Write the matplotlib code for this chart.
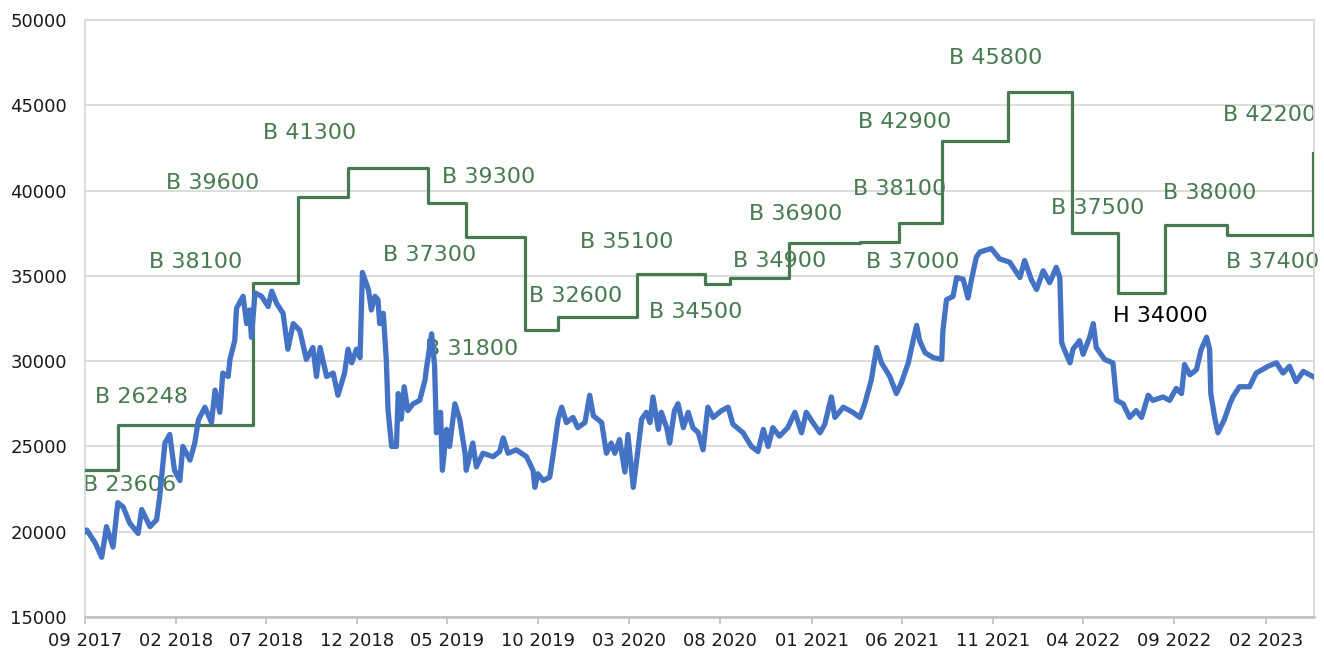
import matplotlib
matplotlib.use("Agg")
import matplotlib.pyplot as plt
import matplotlib.dates as mdates
import pandas as pd

plt.rcParams['font.family'] = ['DejaVu Sans']

# price series
price_dates = [
    '2017-09-01', '2017-09-04', '2017-09-18', '2017-09-29', '2017-10-07', '2017-10-18', '2017-10-26',
    '2017-11-04', '2017-11-15', '2017-11-29', '2017-12-05', '2017-12-19', '2017-12-30', '2018-01-04',
    '2018-01-13', '2018-01-21', '2018-01-29', '2018-02-07', '2018-02-12', '2018-02-24', '2018-03-04',
    '2018-03-10', '2018-03-21', '2018-04-01', '2018-04-07', '2018-04-15', '2018-04-20', '2018-04-29',
    '2018-05-02', '2018-05-10', '2018-05-13', '2018-05-24', '2018-05-30', '2018-06-04', '2018-06-07',
    '2018-06-13', '2018-06-24', '2018-07-05', '2018-07-11', '2018-07-19', '2018-07-30', '2018-08-07',
    '2018-08-16', '2018-08-27', '2018-09-07', '2018-09-18', '2018-09-24', '2018-09-30', '2018-10-11',
    '2018-10-22', '2018-10-30', '2018-11-10', '2018-11-16', '2018-11-22', '2018-11-30', '2018-12-06',
    '2018-12-10', '2018-12-20', '2018-12-25', '2018-12-31', '2019-01-05', '2019-01-08', '2019-01-14',
    '2019-01-19', '2019-01-22', '2019-01-28', '2019-02-05', '2019-02-08', '2019-02-13', '2019-02-18',
    '2019-02-24', '2019-03-05', '2019-03-16', '2019-03-25', '2019-03-27', '2019-04-05', '2019-04-10',
    '2019-04-13', '2019-04-20', '2019-04-23', '2019-04-30', '2019-05-05', '2019-05-14', '2019-05-22',
    '2019-05-31', '2019-06-02', '2019-06-13', '2019-06-19', '2019-06-30', '2019-07-17', '2019-07-28',
    '2019-08-03', '2019-08-11', '2019-08-25', '2019-09-11', '2019-09-22', '2019-09-25', '2019-09-30',
    '2019-10-09', '2019-10-20', '2019-10-26', '2019-11-03', '2019-11-09', '2019-11-17', '2019-11-28',
    '2019-12-06', '2019-12-18', '2019-12-26', '2020-01-01', '2020-01-15', '2020-01-23', '2020-01-31',
    '2020-02-06', '2020-02-14', '2020-02-23', '2020-02-28', '2020-03-08', '2020-03-13', '2020-03-22',
    '2020-03-30', '2020-04-05', '2020-04-10', '2020-04-19', '2020-04-24', '2020-05-03', '2020-05-08',
    '2020-05-16', '2020-05-22', '2020-05-31', '2020-06-08', '2020-06-16', '2020-06-25', '2020-07-03',
    '2020-07-11', '2020-07-20', '2020-08-03', '2020-08-14', '2020-08-22', '2020-09-08', '2020-09-22',
    '2020-10-03', '2020-10-12', '2020-10-20', '2020-10-28', '2020-11-08', '2020-11-22', '2020-12-04',
    '2020-12-15', '2020-12-23', '2021-01-03', '2021-01-15', '2021-01-23', '2021-02-03', '2021-02-09',
    '2021-02-23', '2021-03-11', '2021-03-23', '2021-03-31', '2021-04-11', '2021-04-20', '2021-04-28',
    '2021-05-12', '2021-05-23', '2021-05-31', '2021-06-12', '2021-06-20', '2021-06-26', '2021-07-01',
    '2021-07-10', '2021-07-24', '2021-08-07', '2021-08-09', '2021-08-15', '2021-08-26', '2021-09-01',
    '2021-09-12', '2021-09-20', '2021-09-26', '2021-10-04', '2021-10-10', '2021-10-29', '2021-11-12',
    '2021-11-29', '2021-12-16', '2021-12-24', '2022-01-04', '2022-01-13', '2022-01-24', '2022-02-04',
    '2022-02-15', '2022-02-21', '2022-02-24', '2022-02-27', '2022-03-10', '2022-03-15', '2022-03-26',
    '2022-04-01', '2022-04-12', '2022-04-18', '2022-04-23', '2022-05-07', '2022-05-21', '2022-05-27',
    '2022-06-07', '2022-06-18', '2022-06-29', '2022-07-08', '2022-07-19', '2022-07-27', '2022-08-13',
    '2022-08-24', '2022-09-04', '2022-09-13', '2022-09-18', '2022-09-27', '2022-10-08', '2022-10-16',
    '2022-10-25', '2022-10-30', '2022-11-01', '2022-11-08', '2022-11-13', '2022-11-24', '2022-12-03',
    '2022-12-08', '2022-12-19', '2023-01-05', '2023-01-16', '2023-02-05', '2023-02-19', '2023-03-02',
    '2023-03-13', '2023-03-24', '2023-04-05', '2023-04-21',
]
price_vals = [
    20000, 20100, 19350, 18500, 20300, 19100, 21700,
    21450, 20500, 19900, 21300, 20300, 20700, 22000,
    25200, 25700, 23600, 23000, 25000, 24200, 25200,
    26550, 27300, 26400, 28300, 27000, 29300, 29100,
    30100, 31200, 33100, 33800, 32200, 33000, 31400,
    34000, 33800, 33200, 34100, 33400, 32800, 30700,
    32200, 31800, 30100, 30800, 29100, 30800, 29100,
    29300, 28000, 29300, 30700, 29900, 30700, 30200,
    35200, 34200, 33000, 33800, 33600, 32200, 32800,
    30100, 27100, 25000, 25000, 28100, 26600, 28500,
    27100, 27500, 27700, 28900, 29500, 31600, 29700,
    25800, 27000, 23600, 26000, 25000, 27500, 26600,
    24600, 23600, 25200, 23800, 24600, 24400, 24700,
    25500, 24600, 24800, 24400, 23600, 22600, 23400,
    23000, 23200, 24600, 26600, 27300, 26400, 26700,
    26100, 26400, 28000, 26800, 26400, 24600, 25200,
    24600, 25400, 23500, 25700, 22600, 24000, 26600,
    27000, 26400, 27900, 26000, 27000, 26100, 25200,
    27100, 27500, 26100, 27000, 26100, 25800, 24800,
    27300, 26700, 27100, 27300, 26300, 25800, 25000,
    24700, 26000, 25000, 26100, 25600, 26100, 27000,
    25800, 27000, 26400, 25800, 26300, 27900, 26700,
    27300, 27000, 26700, 27500, 28900, 30800, 29900,
    29100, 28100, 28700, 29900, 31200, 32100, 31200,
    30500, 30200, 30100, 31800, 33600, 33800, 34900,
    34800, 33700, 34800, 36100, 36400, 36600, 36000,
    35800, 34900, 35900, 34800, 34200, 35300, 34600,
    35500, 34900, 31100, 30800, 29900, 30700, 31200,
    30400, 31400, 32200, 30800, 30100, 29900, 27700,
    27500, 26700, 27100, 26700, 28000, 27700, 27900,
    27700, 28400, 28100, 29800, 29200, 29500, 30700,
    31400, 30700, 28100, 26600, 25800, 26600, 27500,
    27900, 28500, 28500, 29300, 29700, 29900, 29300,
    29700, 28800, 29400, 29100,
]

# target steps
step_dates = [
    '2017-09-01', '2017-10-26', '2018-06-09', '2018-08-24', '2018-11-15', '2019-03-30',
    '2019-06-01', '2019-09-08', '2019-11-02', '2020-03-15', '2020-07-07', '2020-08-17',
    '2020-11-24', '2021-03-23', '2021-05-27', '2021-08-07', '2021-11-26', '2022-03-13',
    '2022-05-29', '2022-08-16', '2022-11-28', '2023-04-21',
]
step_vals = [
    23606, 26248, 34600, 39600, 41300, 39300,
    37300, 31800, 32600, 35100, 34500, 34900,
    36900, 37000, 38100, 42900, 45800, 37500,
    34000, 38000, 37400, 42200,
]

# annotations: text, anchor date, anchor value
label_texts = ['B 23606', 'B 26248', 'B 38100', 'B 39600', 'B 41300', 'B 39300', 'B 37300',
               'B 31800', 'B 32600', 'B 35100', 'B 34500', 'B 34900', 'B 36900', 'B 38100',
               'B 37000', 'B 42900', 'B 45800', 'B 37500', 'H 34000', 'B 38000', 'B 37400',
               'B 42200']
label_dates = ['2017-08-29', '2017-09-18', '2017-12-17', '2018-01-14', '2018-06-26', '2019-04-22',
               '2019-01-13', '2019-03-25', '2019-09-15', '2019-12-10', '2020-04-03', '2020-08-22',
               '2020-09-18', '2021-03-11', '2021-04-02', '2021-03-20', '2021-08-19', '2022-02-07',
               '2022-05-21', '2022-08-13', '2022-11-26', '2022-11-21']
label_vals = [22740, 27900, 35810, 40440, 43380, 40800, 36220,
              30710, 33840, 37000, 32860, 35890, 38630, 40070,
              35800, 44040, 47750, 38960, 32660, 39880, 35800,
              44430]

green = '#477a50'
blue = '#4472c4'

fig = plt.figure(figsize=(13.24, 6.49), dpi=100)
ax = fig.add_axes([85 / 1324, 32 / 649, 1229 / 1324, 597 / 649])

ax.plot(pd.to_datetime(step_dates), step_vals, drawstyle='steps-post',
        color=green, lw=2.3, zorder=3)
ax.plot(pd.to_datetime(price_dates), price_vals, color=blue, lw=3.8,
        solid_joinstyle='round', zorder=4)

for t, d, v in zip(label_texts, label_dates, label_vals):
    c = 'black' if t.startswith('H') else green
    ax.text(pd.Timestamp(d), v, t, color=c, fontsize=16, ha='left', va='center',
            zorder=2, clip_on=False)

ax.set_xlim(pd.Timestamp('2017-09-01'), pd.Timestamp('2023-04-23'))
ax.set_ylim(15000, 50000)
ax.set_yticks(range(15000, 50001, 5000))
ax.set_xticks(pd.date_range('2017-09-01', '2023-02-01', freq='5MS'))
ax.xaxis.set_major_formatter(mdates.DateFormatter('%m %Y'))

ax.grid(axis='y', color='#d9d9d9', lw=1.3, zorder=0)
ax.set_axisbelow(True)
for side in ['left', 'right', 'top']:
    ax.spines[side].set_color('#d9d9d9')
    ax.spines[side].set_linewidth(1.3)
ax.spines['bottom'].set_color('#bfbfbf')
ax.spines['bottom'].set_linewidth(1.8)

ax.tick_params(axis='y', length=0, pad=13, labelsize=13, labelcolor='#1a1a1a')
ax.tick_params(axis='x', length=5, width=1.2, color='#bfbfbf', pad=6,
               labelsize=13, labelcolor='#1a1a1a')

fig.savefig('out.png', dpi=100)
